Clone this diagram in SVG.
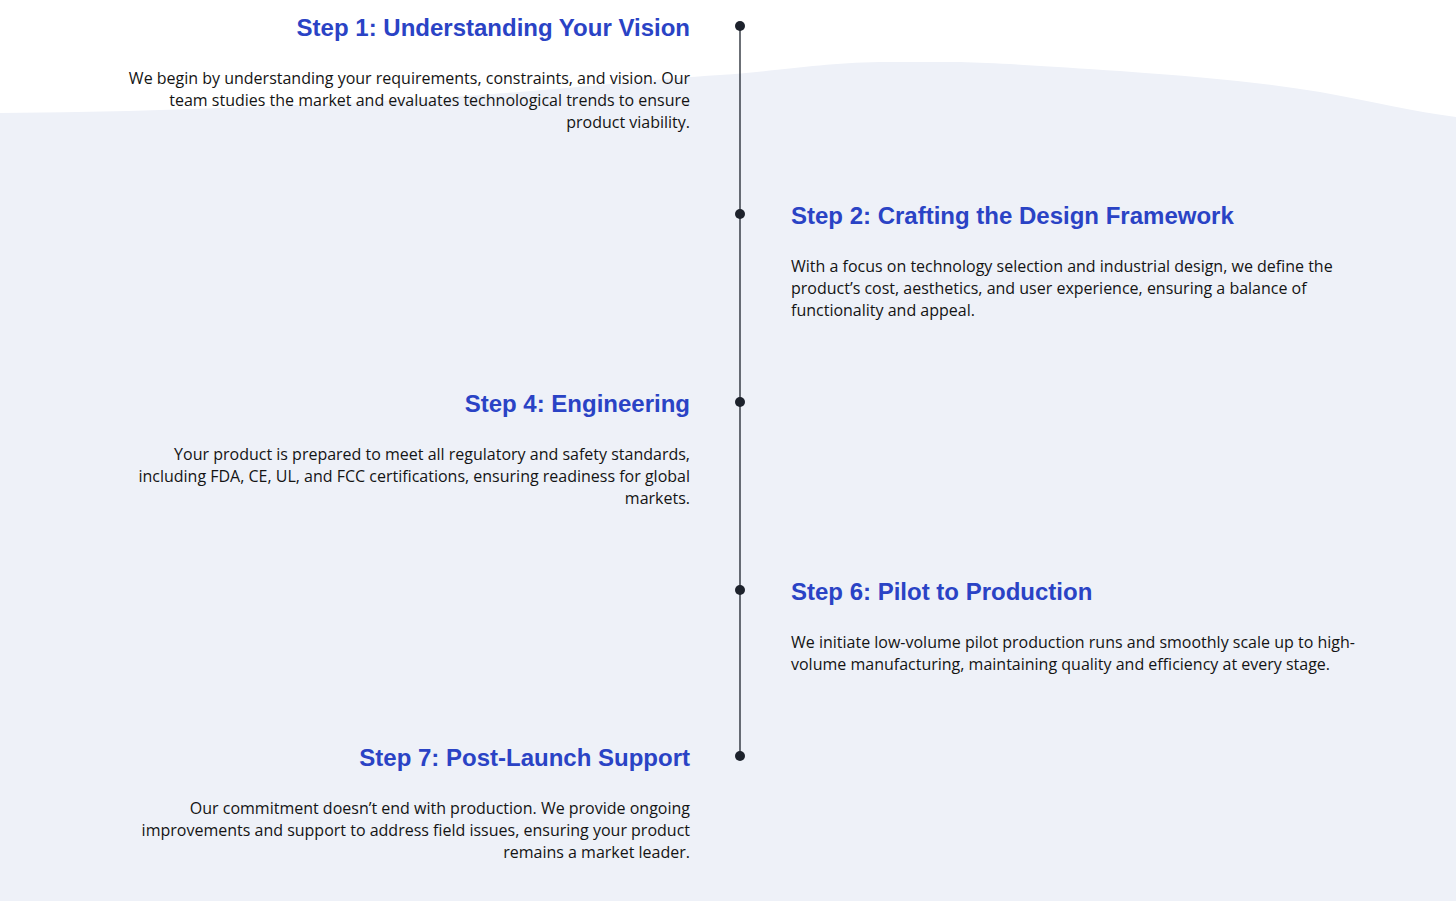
<svg xmlns="http://www.w3.org/2000/svg" width="1456" height="901" viewBox="0 0 1456 901">
<style>
.t{font-family:"Liberation Sans",Arial,sans-serif;font-weight:bold;font-size:24px;fill:#2a43c5}
.b{font-family:"Open Sans","Noto Sans",sans-serif;font-size:16px;fill:#141414}
.r{text-anchor:end}
.dot{fill:#1d222c}
</style>
<rect width="1456" height="901" fill="#ffffff"/>
<path d="M0,113 C150,112 300,106 450,97 C560,90 640,80 720,75 C790,70 820,63 880,62 L960,62 C1000,63 1060,67 1120,71 C1200,77 1260,82 1320,92 C1370,101 1415,112 1456,117 L1456,901 L0,901 Z" fill="#eef1f8"/>
<g id="connectors">
<line x1="740" y1="26" x2="740" y2="756" stroke="#1d222c" stroke-width="1.3"/>
</g>
<g id="step1">
<circle class="dot" cx="740" cy="26" r="5"/>
<text class="t r" x="690" y="36">Step 1: Understanding Your Vision</text>
<text class="b r" x="690" y="84">We begin by understanding your requirements, constraints, and vision. Our</text>
<text class="b r" x="690" y="106">team studies the market and evaluates technological trends to ensure</text>
<text class="b r" x="690" y="128">product viability.</text>
</g>
<g id="step2">
<circle class="dot" cx="740" cy="214" r="5"/>
<text class="t" x="791" y="224">Step 2: Crafting the Design Framework</text>
<text class="b" x="791" y="272">With a focus on technology selection and industrial design, we define the</text>
<text class="b" x="791" y="294">product’s cost, aesthetics, and user experience, ensuring a balance of</text>
<text class="b" x="791" y="316">functionality and appeal.</text>
</g>
<g id="step4">
<circle class="dot" cx="740" cy="402" r="5"/>
<text class="t r" x="690" y="412">Step 4: Engineering</text>
<text class="b r" x="690" y="460">Your product is prepared to meet all regulatory and safety standards,</text>
<text class="b r" x="690" y="482">including FDA, CE, UL, and FCC certifications, ensuring readiness for global</text>
<text class="b r" x="690" y="504">markets.</text>
</g>
<g id="step6">
<circle class="dot" cx="740" cy="590" r="5"/>
<text class="t" x="791" y="600">Step 6: Pilot to Production</text>
<text class="b" x="791" y="648">We initiate low-volume pilot production runs and smoothly scale up to high-</text>
<text class="b" x="791" y="670">volume manufacturing, maintaining quality and efficiency at every stage.</text>
</g>
<g id="step7">
<circle class="dot" cx="740" cy="756" r="5"/>
<text class="t r" x="690" y="766">Step 7: Post-Launch Support</text>
<text class="b r" x="690" y="814">Our commitment doesn’t end with production. We provide ongoing</text>
<text class="b r" x="690" y="836">improvements and support to address field issues, ensuring your product</text>
<text class="b r" x="690" y="858">remains a market leader.</text>
</g>
</svg>
